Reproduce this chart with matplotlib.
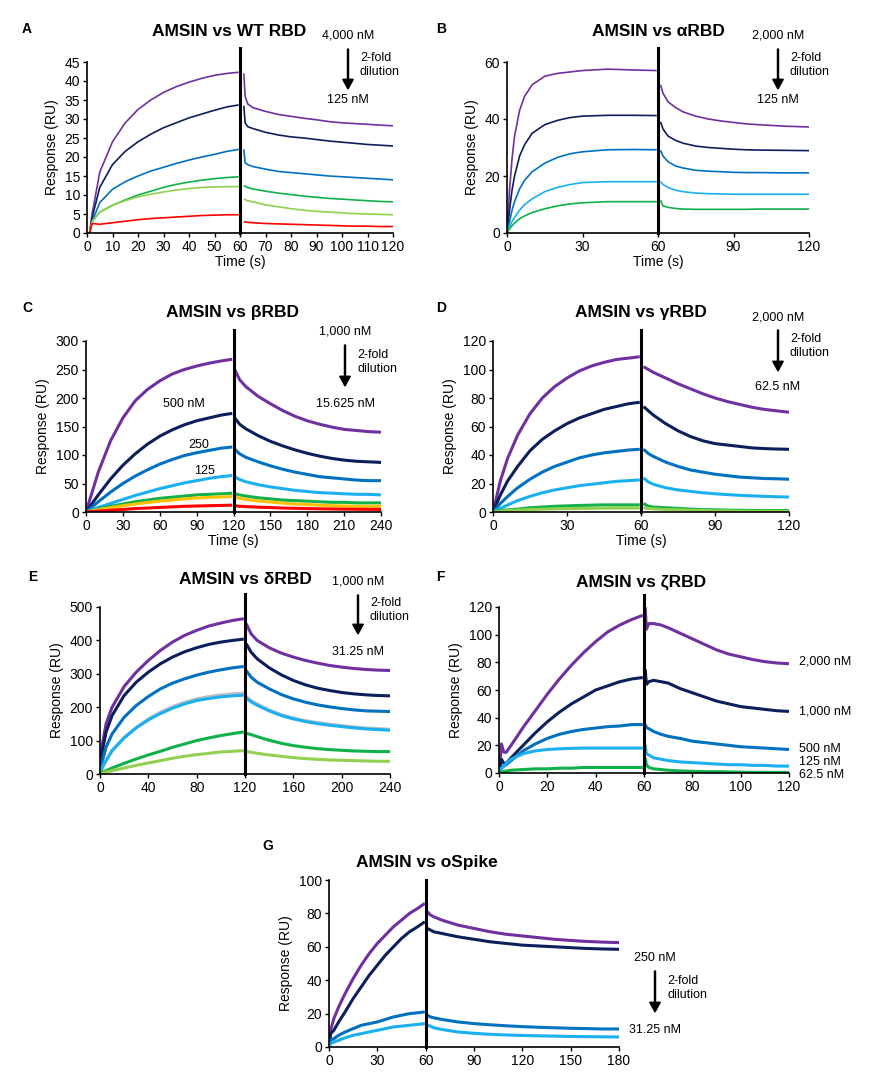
import matplotlib
matplotlib.use("Agg")
import matplotlib.pyplot as plt
import numpy as np

plt.rcParams['font.family'] = ['Liberation Sans', 'DejaVu Sans']

W, H = 882, 1082
PUR, NAV, BLU, LBL, GRN, LGR, RED, ORA, GRY = '#7030A0', '#0C1F5C', '#0070C0', '#1AB0F0', '#10B04A', '#92D050', '#FF0000', '#FFC000', '#BFBFBF'

# ---------------- Panel A: WT RBD ----------------
a_ta = [1, 2, 5, 10, 15, 20, 25, 30, 35, 40, 45, 50, 55, 59.5]
a_td = [61.5, 62, 63, 65, 70, 75, 80, 85, 90, 95, 100, 105, 110, 115, 120]
a_assoc = [
    [0, 5, 16, 24, 29, 32.5, 35, 37, 38.5, 39.7, 40.7, 41.5, 42, 42.3],
    [0, 4, 12, 18, 21.5, 24, 26, 27.7, 29, 30.3, 31.3, 32.3, 33.2, 33.7],
    [0, 3, 8, 11.5, 13.5, 15, 16.3, 17.3, 18.3, 19.2, 20, 20.7, 21.5, 22],
    [0, 3, 5.5, 7.3, 8.7, 10, 11, 12, 12.8, 13.4, 13.9, 14.3, 14.6, 14.8],
    [0, 3, 5.5, 7.3, 8.5, 9.5, 10.2, 10.8, 11.3, 11.7, 12, 12.1, 12.2, 12.2],
    [0, 2.5, 2.3, 2.7, 3.1, 3.5, 3.8, 4.0, 4.2, 4.4, 4.6, 4.7, 4.8, 4.8],
]
a_dissoc = [
    [42, 36, 34, 33, 32, 31.2, 30.7, 30.2, 29.8, 29.3, 29, 28.8, 28.6, 28.4, 28.2],
    [33.5, 29, 28, 27.5, 26.5, 25.8, 25.3, 25, 24.6, 24.2, 23.9, 23.6, 23.3, 23.1, 22.9],
    [22, 18.5, 18, 17.5, 16.8, 16.2, 15.9, 15.6, 15.3, 15, 14.8, 14.6, 14.4, 14.2, 14],
    [12.5, 12.3, 12, 11.6, 11, 10.5, 10.1, 9.7, 9.4, 9.1, 8.9, 8.7, 8.5, 8.3, 8.2],
    [9, 8.8, 8.5, 8.2, 7.4, 6.9, 6.4, 6.0, 5.7, 5.5, 5.3, 5.1, 5, 4.9, 4.8],
    [3, 2.9, 2.8, 2.7, 2.5, 2.4, 2.3, 2.2, 2.1, 2.0, 1.9, 1.8, 1.8, 1.7, 1.7],
]
a_colors = [PUR, NAV, BLU, GRN, LGR, RED]

# ---------------- Panel B: alpha RBD ----------------
b_ta = [0, 1, 2, 3, 5, 7, 10, 15, 20, 25, 30, 40, 50, 59.5]
b_td = [61, 62, 64, 67, 70, 75, 80, 85, 90, 95, 100, 110, 120]
b_assoc = [
    [0, 15, 26, 34, 43, 48, 52, 55, 56, 56.5, 57, 57.5, 57.2, 57],
    [0, 8, 15, 20, 27, 31, 35, 38, 39.5, 40.5, 41, 41.3, 41.3, 41.2],
    [0, 4, 8, 11, 15.5, 18.5, 21.5, 24.5, 26.5, 27.8, 28.5, 29.2, 29.3, 29.2],
    [0, 2, 4, 5.5, 8, 10, 12, 14.5, 16, 17, 17.7, 18, 18, 18],
    [0, 1.5, 2.5, 3.5, 5, 6, 7.2, 8.5, 9.5, 10.2, 10.6, 11, 11, 11],
]
b_dissoc = [
    [52, 49, 46, 44, 42.5, 41, 40, 39.3, 38.8, 38.3, 38, 37.5, 37.2],
    [39, 36.5, 34, 32.5, 31.5, 30.5, 30, 29.7, 29.4, 29.2, 29.1, 29, 28.9],
    [29, 27, 25, 23.5, 22.8, 22, 21.7, 21.5, 21.3, 21.2, 21.2, 21.1, 21.1],
    [18, 17, 16, 15, 14.5, 14, 13.8, 13.7, 13.6, 13.6, 13.6, 13.6, 13.6],
    [11.5, 9.5, 9, 8.6, 8.4, 8.3, 8.3, 8.3, 8.3, 8.3, 8.4, 8.4, 8.4],
]
b_colors = [PUR, NAV, BLU, LBL, GRN]

# ---------------- Panel C: beta RBD ----------------
c_ta = [0, 10, 20, 30, 40, 50, 60, 70, 80, 90, 100, 110, 119]
c_td = [121, 125, 130, 140, 150, 160, 170, 180, 190, 200, 210, 220, 230, 240]
c_assoc = [
    [0, 70, 125, 165, 195, 215, 230, 242, 250, 256, 261, 265, 268],
    [0, 30, 58, 82, 102, 119, 133, 144, 153, 160, 165, 170, 173],
    [0, 18, 35, 50, 63, 74, 84, 92, 99, 104, 108, 112, 114],
    [0, 8, 15, 22, 29, 35, 41, 46, 51, 55, 59, 62, 64],
    [0, 5, 10, 14, 18, 21, 24, 26, 28, 30, 31, 32, 33],
    [0, 4, 7.5, 11, 14, 16.5, 19, 21, 23, 24.5, 25.5, 26.5, 27],
    [0, 1.5, 3, 4.5, 6, 7, 8, 9, 10, 10.5, 11, 11.5, 12],
]
c_dissoc = [
    [250, 232, 220, 203, 190, 178, 168, 160, 154, 149, 145, 143, 141, 140],
    [165, 154, 146, 134, 124, 116, 109, 103, 98, 94, 91, 89, 88, 87],
    [110, 102, 96, 88, 81, 75, 70, 66, 62, 60, 58, 56, 55, 55],
    [62, 57, 53, 48, 44, 41, 38, 36, 34, 33, 32, 31, 31, 30],
    [32, 30, 28, 25, 23, 21, 20, 19, 18, 17, 17, 16, 16, 16],
    [26, 24, 22, 19.5, 17.5, 15.5, 14, 13, 12, 11, 10.5, 10, 10, 10],
    [11, 10, 9.5, 8.5, 7.8, 7, 6.5, 6, 5.6, 5.3, 5, 4.8, 4.6, 4.5],
]
c_colors = [PUR, NAV, BLU, LBL, GRN, ORA, RED]

# ---------------- Panel D: gamma RBD ----------------
d_ta = [0, 3, 6, 10, 15, 20, 25, 30, 35, 40, 45, 50, 55, 59.5]
d_td = [61, 63, 65, 70, 75, 80, 85, 90, 95, 100, 105, 110, 115, 120]
d_assoc = [
    [0, 22, 38, 54, 69, 80, 88, 94, 99, 102.5, 105, 107, 108, 109],
    [0, 12, 22, 32, 43, 51, 57, 62, 66, 69, 72, 74, 76, 77],
    [0, 6, 11, 17, 23, 28, 32, 35, 38, 40, 41.5, 42.5, 43.5, 44],
    [0, 2.5, 5, 8, 11, 13.5, 15.5, 17, 18.5, 19.5, 20.5, 21.5, 22, 22.5],
    [0, 1, 1.5, 2, 3, 3.5, 4, 4.3, 4.6, 4.8, 5, 5, 5, 5],
    [0, 0.5, 1, 1.3, 1.7, 2, 2.2, 2.4, 2.5, 2.6, 2.7, 2.8, 2.8, 2.8],
]
d_dissoc = [
    [102, 100, 98, 94, 90, 86.5, 83, 80, 77.5, 75.5, 73.5, 72, 71, 70],
    [74, 71, 68, 62, 57, 53, 50, 48, 47, 46, 45, 44.5, 44.2, 44],
    [44, 41, 39, 35, 32, 29.5, 28, 26.5, 25.5, 24.5, 24, 23.5, 23.3, 23],
    [24, 21, 19.5, 17, 15.5, 14.5, 13.5, 12.8, 12.2, 11.7, 11.3, 11, 10.7, 10.5],
    [6, 4, 3.5, 3, 2.5, 2, 1.7, 1.5, 1.3, 1.2, 1.1, 1, 1, 1],
    [3, 2.5, 2.2, 1.8, 1.5, 1.2, 1, 0.8, 0.7, 0.6, 0.5, 0.5, 0.4, 0.4],
]
d_colors = [PUR, NAV, BLU, LBL, GRN, LGR]

# ---------------- Panel E: delta RBD ----------------
e_ta = [0, 2, 5, 10, 20, 30, 40, 50, 60, 70, 80, 90, 100, 110, 119]
e_td = [121, 125, 130, 140, 150, 160, 170, 180, 190, 200, 210, 220, 230, 240]
e_assoc = [
    [0, 90, 150, 200, 262, 305, 340, 370, 395, 415, 430, 443, 452, 460, 465],
    [0, 70, 125, 175, 235, 275, 305, 330, 350, 366, 378, 388, 395, 400, 404],
    [0, 40, 80, 120, 170, 205, 232, 255, 272, 285, 296, 305, 312, 318, 322],
    [0, 20, 40, 70, 110, 140, 165, 185, 202, 215, 225, 232, 237, 240, 242],
    [0, 20, 40, 70, 108, 138, 162, 181, 197, 210, 220, 226, 231, 234, 236],
    [0, 5, 10, 18, 32, 45, 57, 68, 80, 90, 100, 108, 115, 121, 126],
    [0, 3, 6, 10, 18, 26, 33, 40, 47, 53, 58, 62, 66, 68, 70],
]
e_dissoc = [
    [450, 420, 400, 378, 362, 350, 340, 332, 325, 320, 316, 313, 311, 310],
    [390, 365, 345, 318, 297, 280, 267, 257, 250, 244, 240, 237, 235, 234],
    [310, 290, 275, 255, 238, 225, 215, 207, 201, 196, 192, 189, 188, 187],
    [232, 220, 210, 192, 178, 168, 160, 154, 149, 145, 141, 138, 136, 134],
    [228, 216, 206, 189, 175, 165, 157, 151, 146, 142, 138, 135, 133, 131],
    [122, 118, 112, 101, 92, 85, 80, 76, 73, 71, 69, 68, 67, 67],
    [68, 65, 62, 57, 53, 49, 46, 44, 42, 41, 40, 39, 38, 38],
]
e_colors = [PUR, NAV, BLU, GRY, LBL, GRN, LGR]

# ---------------- Panel F: zeta RBD ----------------
f_ta = [0, 1, 2, 3, 5, 10, 15, 20, 25, 30, 35, 40, 45, 50, 55, 59.5]
f_td = [60.5, 61, 62, 64, 67, 70, 75, 80, 85, 90, 95, 100, 105, 110, 115, 120]
f_assoc = [
    [0, 21, 15, 15, 20, 33, 45, 57, 68, 78, 87, 95, 102, 107, 111, 114],
    [0, 10, 7, 7, 11, 20, 29, 37, 44, 50, 55, 60, 63, 66, 68, 69],
    [0, 4, 5, 6, 9, 16, 21, 25, 28, 30, 31.5, 32.5, 33.5, 34, 35, 35],
    [0, 3, 5, 7, 10, 14, 16, 17, 17.5, 17.8, 18, 18, 18, 18, 18, 18],
    [0, 0.5, 1, 1.5, 2, 2.5, 3, 3, 3.5, 3.5, 4, 4, 4, 4, 4, 4],
]
f_dissoc = [
    [120, 104, 108, 108, 107, 105, 101, 97, 93, 89, 86, 84, 82, 80.5, 79.5, 79],
    [75, 64, 66, 67, 66, 65, 61, 58, 55, 52, 50, 48, 47, 46, 45, 44.5],
    [35, 33, 32, 30, 28, 26.5, 25, 23, 22, 21, 20, 19, 18.5, 18, 17.5, 17],
    [20, 14, 13, 11, 10, 9, 8, 7.5, 7, 6.5, 6, 6, 5.5, 5.5, 5, 5],
    [11, 6, 4, 3, 2.5, 2, 1.5, 1.2, 1, 1, 0.8, 0.6, 0.5, 0.5, 0.4, 0.4],
]
f_colors = [PUR, NAV, BLU, LBL, GRN]
f_labels = ['2,000 nM', '1,000 nM', '500 nM', '125 nM', '62.5 nM']

# ---------------- Panel G: oSpike ----------------
g_ta = [0, 1, 3, 6, 10, 15, 20, 25, 30, 35, 40, 45, 50, 55, 59.5]
g_td = [61, 63, 65, 70, 80, 90, 100, 110, 120, 130, 140, 150, 160, 170, 180]
g_assoc = [
    [0, 10, 17, 24, 32, 41, 49, 56, 62, 67, 72, 76, 80, 83, 86],
    [0, 8, 10, 15, 21, 29, 36, 43, 49, 55, 60, 65, 69, 72, 75],
    [0, 4, 5, 7, 9, 11, 13, 14, 15, 16.5, 18, 19, 20, 20.5, 21],
    [0, 2, 3, 4, 5.5, 7, 8, 9, 10, 11, 12, 12.5, 13, 13.5, 14],
]
g_dissoc = [
    [81, 79, 78, 76, 73, 71, 69, 67.5, 66.5, 65.5, 64.5, 63.8, 63.2, 62.8, 62.5],
    [71, 70, 69, 68, 66, 64.5, 63, 62, 61, 60.5, 60, 59.5, 59, 58.7, 58.5],
    [19, 18, 17.5, 16.5, 15, 14, 13.3, 12.7, 12.2, 11.8, 11.5, 11.2, 11, 10.8, 10.8],
    [13, 12.5, 11.5, 10.5, 9, 8.2, 7.6, 7.2, 6.9, 6.7, 6.5, 6.3, 6.2, 6.1, 6],
]
g_colors = [PUR, NAV, BLU, LBL]

fig = plt.figure(figsize=(W / 100, H / 100), dpi=100)


def fx(x):
    return x / W


def fy(y):
    return 1 - y / H


def make_ax(x0, x1, y0, y1):
    return fig.add_axes([fx(x0), fy(y1), (x1 - x0) / W, (y1 - y0) / H])


def panel(box, ta, td, assoc, dissoc, colors, xmax, xticks, ymax, yticks, tinj,
          title, tcx, ty, letter, lx, ly, lw, vtop, xlabel=True):
    ax = make_ax(*box)
    for a, d, c in zip(assoc, dissoc, colors):
        ax.plot(ta, a, color=c, lw=lw, solid_capstyle='butt')
        ax.plot(td, d, color=c, lw=lw, solid_capstyle='butt')
    ax.set_xlim(0, xmax)
    ax.set_ylim(0, ymax)
    ax.set_xticks(xticks)
    ax.set_yticks(yticks)
    ax.spines['top'].set_visible(False)
    ax.spines['right'].set_visible(False)
    for s in ('left', 'bottom'):
        ax.spines[s].set_linewidth(1.2)
    ax.tick_params(direction='out', length=3, width=1.0, labelsize=10, pad=2)
    ax.axvline(tinj, ymin=0, ymax=vtop, color='black', lw=2.2, clip_on=False)
    ax.set_ylabel('Response (RU)', fontsize=10)
    if xlabel:
        ax.set_xlabel('Time (s)', fontsize=10, labelpad=1)
    fig.text(fx(tcx), fy(ty), title, fontsize=12.5, fontweight='bold', ha='center', va='center')
    fig.text(fx(lx), fy(ly), letter, fontsize=10, fontweight='bold', ha='left', va='center')
    return ax


def dilution(xc, ytop, top_txt, bot_txt, y_a0, y_a1, y_bot, txt_dx=10):
    fig.text(fx(xc), fy(ytop), top_txt, fontsize=9, ha='center', va='center')
    fig.patches.append(matplotlib.patches.FancyArrow(
        fx(xc), fy(y_a0), 0, fy(y_a1) - fy(y_a0), width=0.0012, head_width=0.012,
        head_length=0.009, length_includes_head=True, color='black', transform=fig.transFigure))
    ym = (y_a0 + y_a1) / 2 - 4
    fig.text(fx(xc + txt_dx), fy(ym - 7), '2-fold', fontsize=9, ha='left', va='center')
    fig.text(fx(xc + txt_dx), fy(ym + 7), 'dilution', fontsize=9, ha='left', va='center')
    fig.text(fx(xc), fy(y_bot), bot_txt, fontsize=9, ha='center', va='center')


# A
panel((87, 393, 62, 233), a_ta, a_td, a_assoc, a_dissoc, a_colors, 120, range(0, 121, 10), 45,
      range(0, 46, 5), 60, 'AMSIN vs WT RBD', 229, 32, 'A', 22, 29, 1.2, 1.08)
dilution(348, 35, '4,000 nM', '125 nM', 49, 89, 100, 12)
# B
panel((507, 809, 62, 233), b_ta, b_td, b_assoc, b_dissoc, b_colors, 120, range(0, 121, 30), 60,
      range(0, 61, 20), 60, 'AMSIN vs αRBD', 658, 32, 'B', 436, 29, 1.2, 1.08)
dilution(778, 35, '2,000 nM', '125 nM', 49, 89, 100, 12)
# C
axc = panel((86, 381, 341, 512), c_ta, c_td, c_assoc, c_dissoc, c_colors, 240, range(0, 241, 30), 300,
            range(0, 301, 50), 120, 'AMSIN vs βRBD', 233, 313, 'C', 22, 308, 2.2, 1.065)
dilution(345, 332, '1,000 nM', '15.625 nM', 345, 386, 404, 12)
axc.text(80, 190, '500 nM', fontsize=9, ha='center', va='center')
axc.text(92, 118, '250', fontsize=9, ha='center', va='center')
axc.text(96, 72, '125', fontsize=9, ha='center', va='center')
# D
panel((493, 789, 341, 512), d_ta, d_td, d_assoc, d_dissoc, d_colors, 120, range(0, 121, 30), 120,
      range(0, 121, 20), 60, 'AMSIN vs γRBD', 641, 313, 'D', 436, 308, 2.2, 1.065)
dilution(778, 317, '2,000 nM', '62.5 nM', 330, 371, 387, 12)
# E
panel((100, 390, 607, 774), e_ta, e_td, e_assoc, e_dissoc, e_colors, 240, range(0, 241, 40), 500,
      range(0, 501, 100), 120, 'AMSIN vs δRBD', 245, 580, 'E', 28, 577, 2.2, 1.08, xlabel=False)
dilution(358, 582, '1,000 nM', '31.25 nM', 595, 634, 652, 12)
# F
axf = panel((499, 789, 607, 773), f_ta, f_td, f_assoc, f_dissoc, f_colors, 120, range(0, 121, 20), 120,
            range(0, 121, 20), 60, 'AMSIN vs ζRBD', 641, 582, 'F', 436, 577, 2.2, 1.07, xlabel=False)
for lab, yy in zip(f_labels, [661, 712, 749, 762, 775]):
    fig.text(fx(799), fy(yy), lab, fontsize=9, ha='left', va='center')
# G
panel((329, 619, 880, 1047), g_ta, g_td, g_assoc, g_dissoc, g_colors, 180, range(0, 181, 30), 100,
      range(0, 101, 20), 60, 'AMSIN vs oSpike', 427, 863, 'G', 262, 846, 2.2, 1.0, xlabel=False)
dilution(655, 958, '250 nM', '31.25 nM', 971, 1012, 1030, 12)

fig.savefig('out.png', dpi=100)
